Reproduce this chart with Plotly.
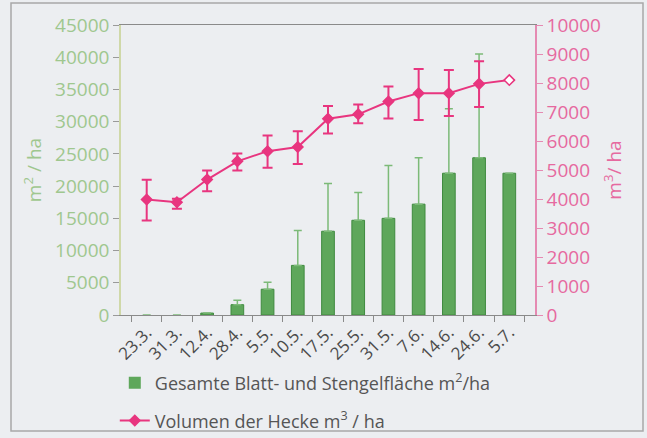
import plotly.graph_objects as go

dates = ["23.3.", "31.3.", "12.4.", "28.4.", "5.5.", "10.5.", "17.5.", "25.5.", "31.5.", "7.6.", "14.6.", "24.6.", "5.7."]
area = [0, 0, 300, 1600, 4000, 7700, 13000, 14700, 15000, 17200, 22000, 24400, 22000]
area_err_plus = [None, None, None, 700, 1100, 5400, 7400, 4300, 8200, 7200, 10000, 16100, None]
volume = [3980, 3890, 4670, 5300, 5650, 5790, 6770, 6920, 7360, 7650, 7650, 7970, 8100]
vol_err_plus = [680, 120, 310, 270, 540, 550, 440, 340, 520, 830, 800, 780, None]
vol_err_minus = [720, 230, 400, 320, 570, 580, 510, 310, 580, 930, 790, 800, None]

GREEN = "#5ea75b"
GREEN_EDGE = "#3f8a3f"
GREEN_TXT = "#9fc78f"
PINK = "#e8357f"
PINK_TXT = "#e6699f"
BG = "#eceef1"
FONT = "Open Sans"

fig = go.Figure()
fig.add_trace(go.Bar(
    x=dates, y=area, name="Gesamte Blatt- und Stengelfläche m<sup>2</sup>/ha",
    marker=dict(color=GREEN, line=dict(color=GREEN_EDGE, width=[0 if v == 0 else 1 for v in area])),
    error_y=dict(type="data", symmetric=False, array=area_err_plus,
                 arrayminus=[0] * len(area), color="#7cba78", thickness=1.5, width=4),
    yaxis="y", legend="legend",
))
fig.add_trace(go.Scatter(
    x=dates, y=volume, name="Volumen der Hecke m<sup>3</sup> / ha", mode="lines+markers",
    line=dict(color=PINK, width=2),
    marker=dict(symbol="diamond", size=8,
                color=[PINK] * (len(volume) - 1) + ["white"],
                line=dict(color=PINK, width=1.5)),
    error_y=dict(type="data", symmetric=False, array=vol_err_plus,
                 arrayminus=vol_err_minus, color=PINK, thickness=2, width=5),
    yaxis="y2", legend="legend2",
))

fig.update_layout(
    width=647, height=438,
    margin=dict(l=121, r=112, t=25, b=123, autoexpand=False),
    paper_bgcolor=BG, plot_bgcolor=BG,
    font=dict(family=FONT, size=17, color="#555"),
    bargap=0.58,
    showlegend=True,
    xaxis=dict(
        tickangle=-45, showline=True, linecolor="#8a8a8a", linewidth=1, mirror=True,
        ticks="outside", tickson="boundaries", ticklen=6, tickcolor="#8a8a8a",
        tickfont=dict(size=17, color="#4a4a4a"), showgrid=False, automargin=False,
    ),
    yaxis=dict(
        range=[0, 45000], dtick=5000, tickformat="d", showgrid=False, zeroline=False,
        showline=True, linecolor="#cfd8a8", linewidth=1.5, automargin=False,
        ticks="outside", ticklen=6, tickcolor="#9a9a9a",
        tickfont=dict(size=19, color=GREEN_TXT),
        title=dict(text="m<sup>2</sup> / ha", font=dict(size=19, color=GREEN_TXT), standoff=8),
    ),
    yaxis2=dict(
        range=[0, 10000], dtick=1000, tickformat="d", overlaying="y", side="right", showgrid=False,
        zeroline=False, showline=True, linecolor="#e58ab2", linewidth=1.5, automargin=False,
        ticks="outside", ticklen=6, tickcolor="#e58ab2",
        tickfont=dict(size=19, color=PINK_TXT),
        title=dict(text="m<sup>3</sup>/ ha", font=dict(size=19, color=PINK_TXT), standoff=8),
    ),
    legend=dict(x=-0.015, y=-0.235, xanchor="left", yanchor="middle", bgcolor="rgba(0,0,0,0)",
                font=dict(size=18, color="#555")),
    legend2=dict(x=-0.015, y=-0.365, xanchor="left", yanchor="middle", bgcolor="rgba(0,0,0,0)",
                 font=dict(size=18, color="#555")),
    shapes=[dict(type="rect", xref="paper", yref="paper",
                 x0=(11 - 121) / 414, x1=(643 - 121) / 414,
                 y0=(315 - 431) / 290, y1=(315 - 3) / 290,
                 line=dict(color="#a8a8a8", width=1.5), fillcolor="rgba(0,0,0,0)", layer="below")],
)

fig.write_html(
    "out.html",
    config={"displayModeBar": False},
    post_script="document.body.style.margin='0';document.body.style.background='#eceef1';",
)
